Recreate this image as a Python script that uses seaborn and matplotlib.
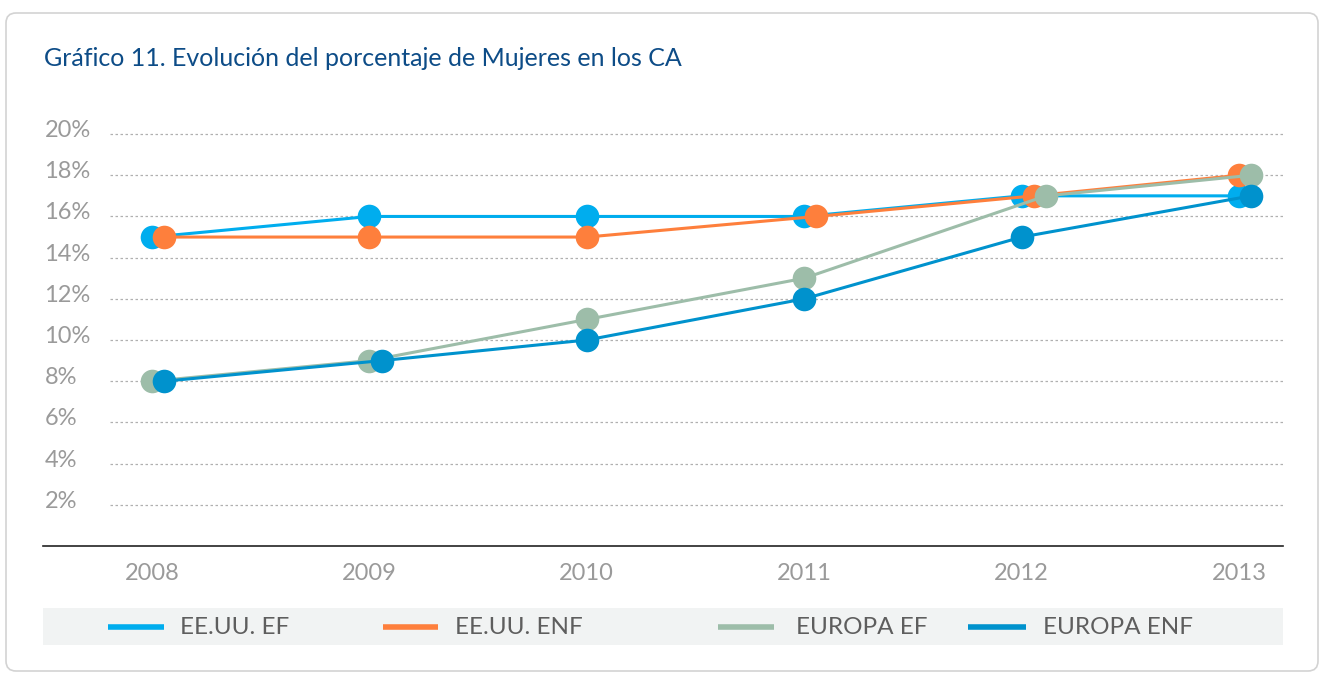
import seaborn as sns
import pandas as pd
import numpy as np
import matplotlib.pyplot as plt
from matplotlib.patches import FancyBboxPatch, Rectangle
from matplotlib.lines import Line2D
import matplotlib.transforms as mtransforms

years=[2008,2009,2010,2011,2012,2013]
series=['EE.UU. EF','EE.UU. ENF','EUROPA EF','EUROPA ENF']
eeuu_ef=[15,16,16,16,17,17]
eeuu_enf=[15,15,15,16,17,18]
europa_ef=[8,9,11,13,17,18]
europa_enf=[8,9,10,12,15,17]
yticks=[2,4,6,8,10,12,14,16,18,20]
colors=['#00adee','#fe7f3c','#9dbda9','#0092cd']

W,H=13.24,6.73
FONT=['Lato','DejaVu Sans']

#long form, shift markers right when an earlier series sits on the same value
rows=[]
vals=dict(zip(series,[eeuu_ef,eeuu_enf,europa_ef,europa_enf]))
for i,yr in enumerate(years):
    seen=[]
    for s in series:
        v=vals[s][i]
        rows.append({'serie':s,'year':yr,'x':yr+0.056*seen.count(v),'value':v})
        seen.append(v)
df=pd.DataFrame(rows)

sns.set_style('white')
plt.rcParams['font.family']=FONT

fig=plt.figure(figsize=(W,H),dpi=100)

#card
card=FancyBboxPatch((0.06,0.02),13.12,6.58,boxstyle='round,pad=0,rounding_size=0.1',
                    transform=fig.dpi_scale_trans,facecolor='white',edgecolor='#d3d3d3',lw=1.2,zorder=-2)
fig.patches.append(card)
#legend band
fig.patches.append(Rectangle((43/100,(673-645)/100),12.40,0.37,transform=fig.dpi_scale_trans,
                             facecolor='#f1f3f3',edgecolor='none',zorder=-1))

fig.text(44/1324,1-66/673,'Gráfico 11. Evolución del porcentaje de Mujeres en los CA',
         color='#0d4c87',fontsize=18,va='baseline',ha='left')

ax=fig.add_axes([43/1324,(673-546)/673,1240/1324,(546-120)/673])
ax.set_facecolor('none')
sns.lineplot(data=df,x='x',y='value',hue='serie',hue_order=series,palette=colors,
             marker='o',markersize=17,markeredgewidth=0,linewidth=2.2,legend=False,
             sort=True,ax=ax,zorder=3)

# 2008 near x=152px, 2013 near x=1239px
step=(1239-152)/5
ax.set_xlim(2008-(152-43)/step,2013+(1283-1239)/step)
ax.set_ylim(0,20+14/20.5)
for y in yticks:
    ax.axhline(y,xmin=(110-43)/1240,xmax=1,color='#b0b0b0',lw=0.9,ls=(0,(2,2)),zorder=1)
for sp in ['top','right','left']:
    ax.spines[sp].set_visible(False)
ax.spines['bottom'].set_color('#222222')
ax.spines['bottom'].set_linewidth(1.2)

ax.set_yticks(yticks)
ax.set_yticklabels([f'{y}%' for y in yticks])
ax.tick_params(axis='y',length=0,pad=-1,labelsize=17,labelcolor='#9a9a9a')
off=mtransforms.ScaledTranslation(0,-3/100,fig.dpi_scale_trans)
for lab in ax.get_yticklabels():
    lab.set_horizontalalignment('left')
    lab.set_verticalalignment('baseline')
    lab.set_transform(lab.get_transform()+off)

ax.set_xticks(years)
ax.set_xticklabels([str(y) for y in years])
ax.tick_params(axis='x',length=0,pad=12,labelsize=17,labelcolor='#9a9a9a')
ax.set_xlabel('')
ax.set_ylabel('')

leg_line=[(108,164),(383,438),(718,774),(968,1026)]
leg_text=[180,455,796,1043]
ly=1-627/673
for s,c,(x0,x1),xt in zip(series,colors,leg_line,leg_text):
    fig.add_artist(Line2D([x0/1324,x1/1324],[ly,ly],color=c,lw=4,solid_capstyle='butt'))
    fig.text(xt/1324,ly,s,color='#5e5e5e',fontsize=17.5,va='center',ha='left')

fig.savefig('out.png',dpi=100)
